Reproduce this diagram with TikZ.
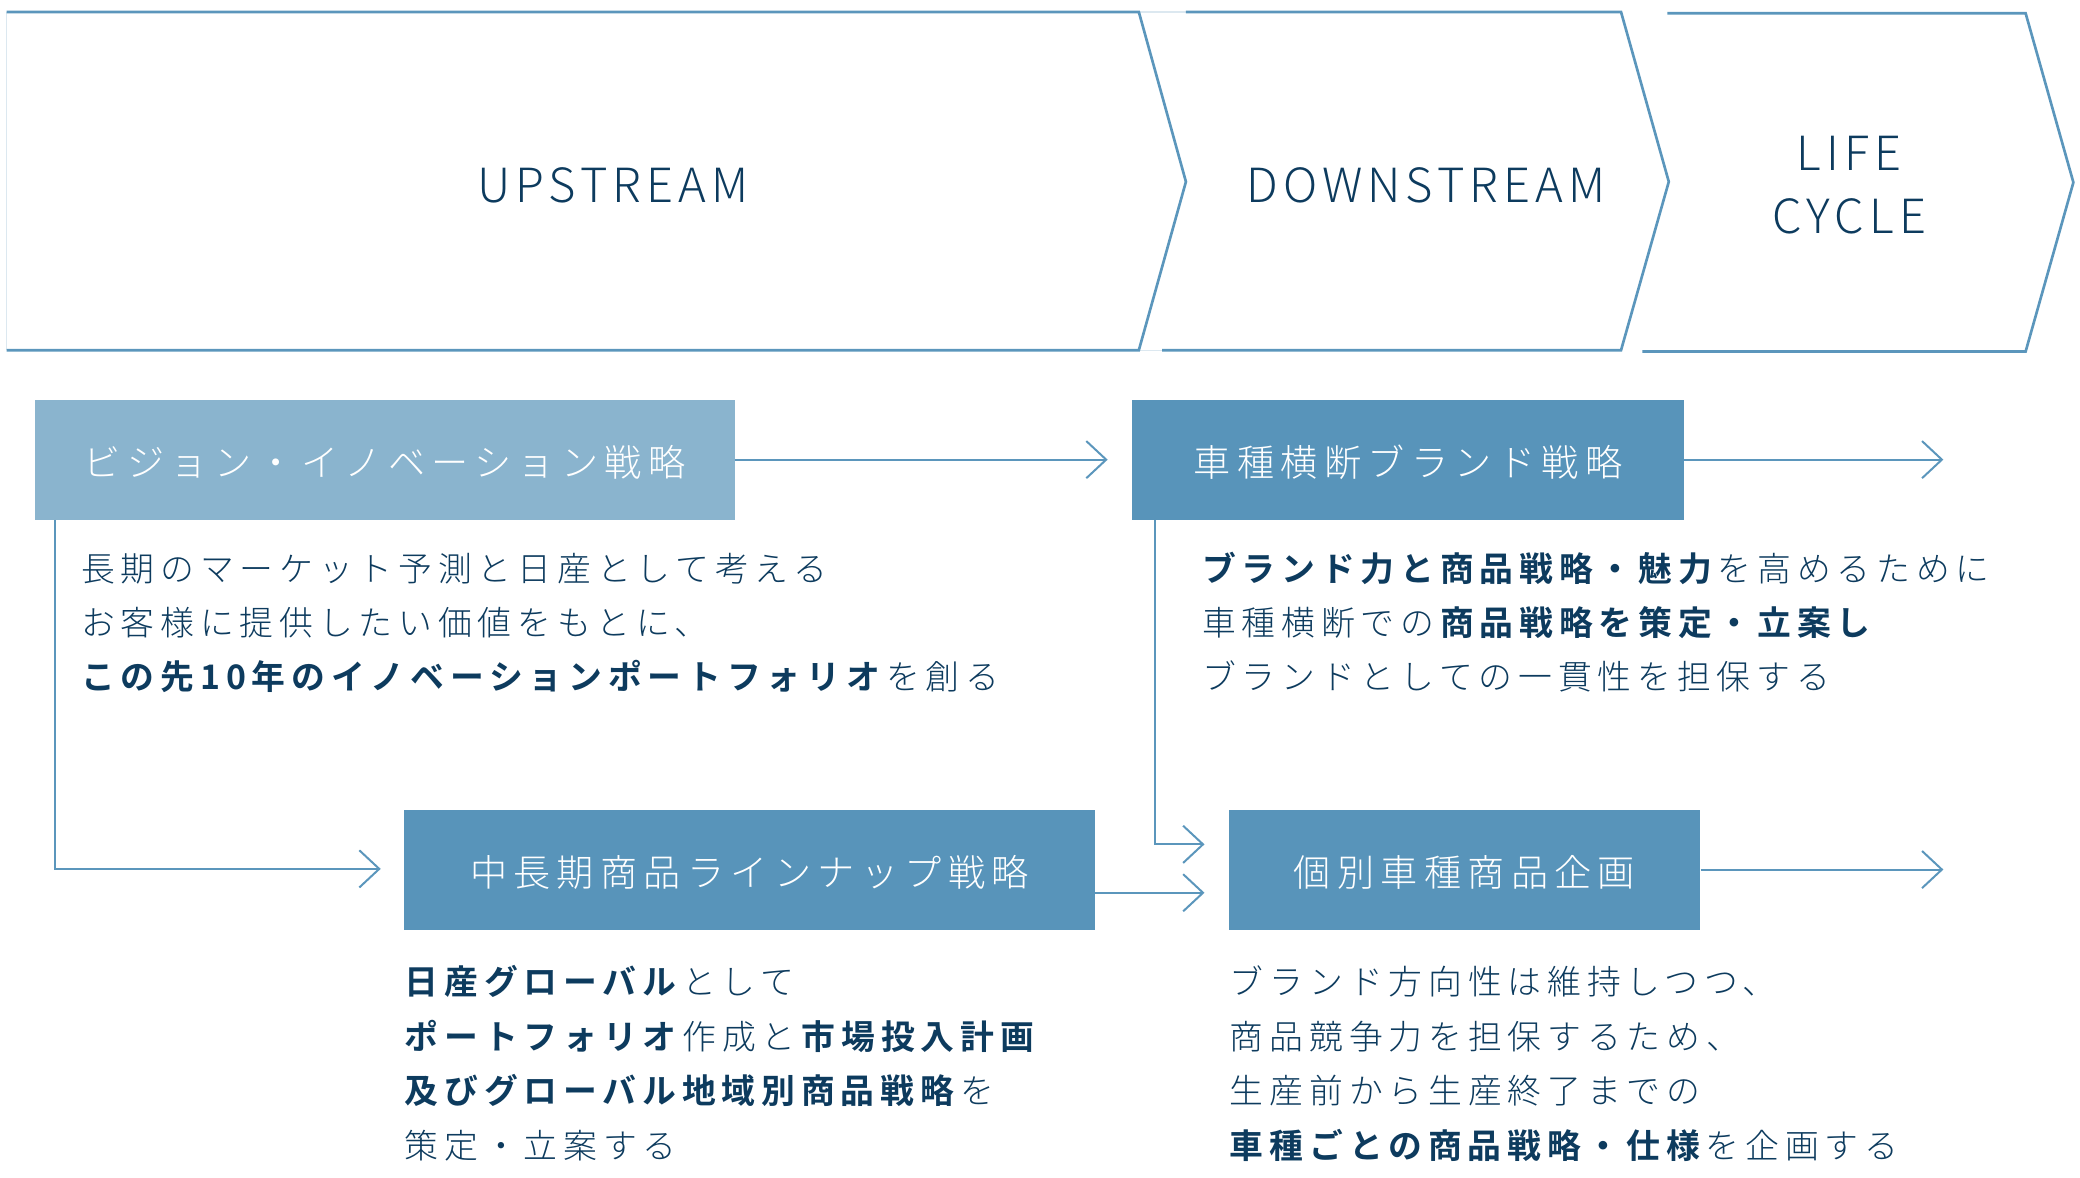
\documentclass[tikz,border=0pt]{standalone}
\usepackage{fontspec}
\usetikzlibrary{arrows.meta}
\setmainfont{Noto Sans CJK JP}[UprightFont=* Light, BoldFont=* Bold]
\newfontfamily\headfont{Noto Sans CJK JP}[UprightFont=* Light, LetterSpace=10.8]
\newfontfamily\boxfont{Noto Sans CJK JP}[UprightFont=* Light, LetterSpace=17]
\newfontfamily\bodyfont{Noto Sans CJK JP}[UprightFont=* Light, BoldFont=* Bold, LetterSpace=17.3]
\definecolor{lineblue}{HTML}{5B96BC}
\definecolor{boxlight}{HTML}{8AB4CE}
\definecolor{boxdark}{HTML}{5894BA}
\definecolor{navy}{HTML}{0D3B5E}
\definecolor{faint}{HTML}{DCE8F0}
\tikzset{
  chev/.style={draw=lineblue, line width=2pt, line join=miter},
  faintline/.style={draw=faint, line width=1pt},
  conn/.style={draw=lineblue, line width=1.5pt, -{Straight Barb[length=15pt,width=28pt,line width=1.5pt]}},
  head/.style={text=navy, font={\headfont\fontsize{35.5}{47}\selectfont}, align=center, inner sep=0pt},
  titlebox/.style={anchor=north west, inner sep=0pt},
  titletext/.style={text=white, inner sep=0pt, font={\boxfont\fontsize{28}{32}\selectfont}},
  body/.style={anchor=base west, inner sep=0pt, text=navy, align=left, font={\bodyfont\fontsize{25.5}{41}\selectfont}}
}
\begin{document}
\begin{tikzpicture}[x=1pt,y=-1pt]
\useasboundingbox (0,0) rectangle (1568,888);
% chevrons
\draw[faintline] (5,9) -- (5,264);
\draw[faintline] (858.5,9) -- (894,9);
\draw[faintline] (858.5,264) -- (876,264);
\draw[chev] (5,9) -- (858.5,9) -- (894,137) -- (858.5,264) -- (5,264);
\draw[chev] (894,9) -- (1222,9) -- (1258,137) -- (1222,264) -- (876,264);
\draw[chev] (1257,10) -- (1527,10) -- (1563,137.5) -- (1527,265) -- (1238,265);
\node[head] (up) at (462,140) {UPSTREAM};
\node[head] (down) at (1075,140) {DOWNSTREAM};
\node[head] (life) at (1394,139.5) {LIFE\\CYCLE};
% boxes
\node[titlebox, fill=boxlight, minimum width=527.5pt, minimum height=90pt] (vis) at (26,301.5) {};
\node[titletext] (vist) at ([yshift=-2pt]vis.center) {ビジョン・イノベーション戦略};
\node[titlebox, fill=boxdark, minimum width=415.5pt, minimum height=90pt] (brand) at (853.5,301.5) {};
\node[titletext] (brandt) at ([yshift=-2pt]brand.center) {車種横断ブランド戦略};
\node[titlebox, fill=boxdark, minimum width=520.5pt, minimum height=90pt] (line) at (304.5,610.5) {};
\node[titletext] (linet) at ([yshift=-2pt]line.center) {中長期商品ラインナップ戦略};
\node[titlebox, fill=boxdark, minimum width=355.5pt, minimum height=90pt] (indiv) at (926,610.5) {};
\node[titletext] (indivt) at ([yshift=-2pt]indiv.center) {個別車種商品企画};
% connectors
\coordinate (e1) at (835,346.5);
\coordinate (e2) at (1465,346.5);
\coordinate (e3) at (287,655);
\coordinate (e4) at (908,636.5);
\coordinate (e5) at (908,673);
\coordinate (e6) at (1465,655.5);
\draw[conn] (vis.east |- e1) -- (e1);
\draw[conn] (brand.east |- e2) -- (e2);
\draw[conn] ([xshift=15.5pt]vis.south west) |- (e3);
\draw[conn] ([xshift=17pt]brand.south west) |- (e4);
\draw[conn] (line.east |- e5) -- (e5);
\draw[conn] (indiv.east |- e6) -- (e6);
% texts (base anchor = baseline of the last line)
\node[body] (t1) at (61,520) {長期のマーケット予測と日産として考える\\お客様に提供したい価値をもとに、\\\textbf{この先10年のイノベーションポートフォリオ}を創る};
\node[body] (t2) at (906,520) {\textbf{ブランド力と商品戦略・魅力}を高めるために\\車種横断での\textbf{商品戦略を策定・立案し}\\ブランドとしての一貫性を担保する};
\node[body] (t3) at (305,873) {\textbf{日産グローバル}として\\\textbf{ポートフォリオ}作成と\textbf{市場投入計画}\\\textbf{及びグローバル地域別商品戦略}を\\策定・立案する};
\node[body] (t4) at (927,873) {ブランド方向性は維持しつつ、\\商品競争力を担保するため、\\生産前から生産終了までの\\\textbf{車種ごとの商品戦略・仕様}を企画する};
\end{tikzpicture}
\end{document}
